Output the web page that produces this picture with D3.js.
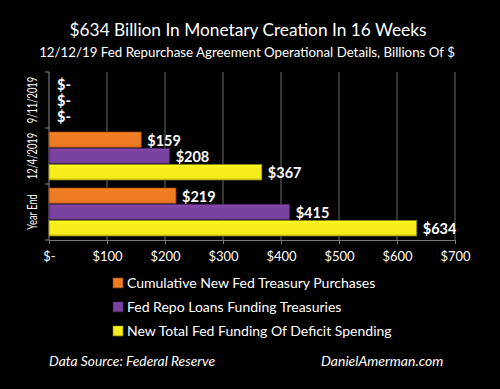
<!DOCTYPE html>
<html lang="en">
<head>
<meta charset="UTF-8">
<script src="https://cdnjs.cloudflare.com/ajax/libs/d3/7.8.5/d3.min.js"></script>
<style>
    body { margin: 0; background: #000; }
    text { font-family: Lato, "Open Sans", sans-serif; fill: #fff; }
</style>
</head>
<body>
<script>
    var categories = ["9/11/2019", "12/4/2019", "Year End"];
    var seriesNames = ["Cumulative New Fed Treasury Purchases",
                       "Fed Repo Loans Funding Treasuries",
                       "New Total Fed Funding Of Deficit Spending"];
    var purchases = [0, 159, 219];
    var repoLoans = [0, 208, 415];
    var totalFunding = [0, 367, 634];
    var xTicks = [0, 100, 200, 300, 400, 500, 600, 700];
    var colors = ["#ee7a22", "#7a42a0", "#f6ec1c"];
    var strokes = ["#8a4210", "#3e1f55", "#8a8410"];

    var series = [purchases, repoLoans, totalFunding];

    var width = 500, height = 389;
    var margin = {top: 72, left: 49, right: 45, bottom: 149};
    var innerW = width - margin.left - margin.right;
    var innerH = height - margin.top - margin.bottom;

    var svg = d3.select("body").append("svg")
        .attr("width", width)
        .attr("height", height)
        .style("background", "#000");

    var defs = svg.append("defs");
    colors.forEach(function (c, i) {
        var g = defs.append("linearGradient")
            .attr("id", "grad" + i)
            .attr("x1", 0).attr("y1", 0).attr("x2", 0).attr("y2", 1);
        g.append("stop").attr("offset", "0%").attr("stop-color", d3.color(c).brighter(0.3));
        g.append("stop").attr("offset", "25%").attr("stop-color", c);
        g.append("stop").attr("offset", "85%").attr("stop-color", c);
        g.append("stop").attr("offset", "100%").attr("stop-color", d3.color(c).darker(0.5));
    });

    // title
    svg.append("text")
        .attr("x", 248).attr("y", 36)
        .attr("text-anchor", "middle")
        .style("font-size", "17.3px")
        .text("$634 Billion In Monetary Creation In 16 Weeks");
    svg.append("text")
        .attr("x", 247).attr("y", 57)
        .attr("text-anchor", "middle")
        .style("font-size", "13.3px")
        .text("12/12/19 Fed Repurchase Agreement Operational Details, Billions Of $");

    var g = svg.append("g")
        .attr("transform", "translate(" + margin.left + "," + margin.top + ")");

    var x = d3.scaleLinear().domain([0, 700]).range([0, innerW]);
    var y0 = d3.scaleBand().domain(categories).range([0, innerH]).padding(0);
    var y1 = d3.scaleBand().domain(d3.range(series.length))
        .range([4, y0.bandwidth() - 4]).paddingInner(0.04);

    // gridlines
    g.selectAll(".grid")
        .data(xTicks.slice(1))
        .enter().append("line")
        .attr("x1", function (d) { return x(d); })
        .attr("x2", function (d) { return x(d); })
        .attr("y1", 0).attr("y2", innerH)
        .attr("stroke", "#6a6a6a")
        .attr("stroke-width", 1);

    // x axis
    var xAxis = g.append("g")
        .attr("transform", "translate(0," + innerH + ")")
        .call(d3.axisBottom(x).tickValues(xTicks).tickSize(4)
            .tickFormat(function (d) { return d === 0 ? "$-" : "$" + d; }));
    xAxis.select(".domain").attr("stroke", "#7a7a7a");
    xAxis.selectAll(".tick line").attr("stroke", "#7a7a7a");
    xAxis.selectAll("text")
        .attr("fill", "#fff")
        .attr("dy", "1.05em")
        .style("font-size", "13px")
        .style("font-family", "Lato, sans-serif");

    // y axis (category separators)
    var yAxisG = g.append("g");
    yAxisG.append("line")
        .attr("x1", 0).attr("x2", 0)
        .attr("y1", 0).attr("y2", innerH)
        .attr("stroke", "#8a8a8a");
    yAxisG.selectAll(".ytick")
        .data([0].concat(categories.map(function (c) { return y0(c) + y0.bandwidth(); })))
        .enter().append("line")
        .attr("x1", -4).attr("x2", 0)
        .attr("y1", function (d) { return d; })
        .attr("y2", function (d) { return d; })
        .attr("stroke", "#8a8a8a");
    yAxisG.selectAll(".ylab")
        .data(categories)
        .enter().append("text")
        .attr("transform", function (d) {
            return "translate(-12," + (y0(d) + y0.bandwidth() / 2) + ") rotate(-90) scale(0.72,1)";
        })
        .attr("text-anchor", "middle")
        .style("font-size", "13px")
        .text(function (d) { return d; });

    // bars
    var rows = [];
    categories.forEach(function (c, ci) {
        series.forEach(function (s, si) {
            rows.push({cat: c, s: si, v: s[ci]});
        });
    });

    var groups = g.selectAll(".bar")
        .data(rows)
        .enter().append("g")
        .attr("transform", function (d) { return "translate(0," + (y0(d.cat) + y1(d.s)) + ")"; });

    groups.filter(function (d) { return d.v > 0; })
        .append("rect")
        .attr("x", 0)
        .attr("y", 0)
        .attr("width", function (d) { return x(d.v); })
        .attr("height", y1.bandwidth())
        .attr("fill", function (d) { return "url(#grad" + d.s + ")"; })
        .attr("stroke", function (d) { return strokes[d.s]; })
        .attr("stroke-width", 0.8);

    groups.append("text")
        .attr("x", function (d) { return d.v > 0 ? x(d.v) + 6 : 8; })
        .attr("y", y1.bandwidth() / 2 + 1)
        .attr("dy", "0.36em")
        .style("font-size", "14.5px")
        .style("font-weight", "bold")
        .text(function (d) { return d.v > 0 ? "$" + d.v : "$-"; });

    // legend
    var legend = svg.append("g").attr("transform", "translate(113,283)");
    seriesNames.forEach(function (n, i) {
        var row = legend.append("g").attr("transform", "translate(0," + (i * 24) + ")");
        row.append("rect")
            .attr("x", 0).attr("y", -5)
            .attr("width", 10).attr("height", 10)
            .attr("fill", "url(#grad" + i + ")")
            .attr("stroke", strokes[i]).attr("stroke-width", 0.6);
        row.append("text")
            .attr("x", 14).attr("y", 0)
            .attr("dy", "0.36em")
            .style("font-size", "14px")
            .text(n);
    });

    // footer
    svg.append("text")
        .attr("x", 49).attr("y", 366)
        .style("font-size", "13.8px")
        .style("font-style", "italic")
        .text("Data Source: Federal Reserve");
    svg.append("text")
        .attr("x", 321).attr("y", 366)
        .style("font-size", "14px")
        .style("font-style", "italic")
        .text("DanielAmerman.com");
</script>
</body>
</html>
